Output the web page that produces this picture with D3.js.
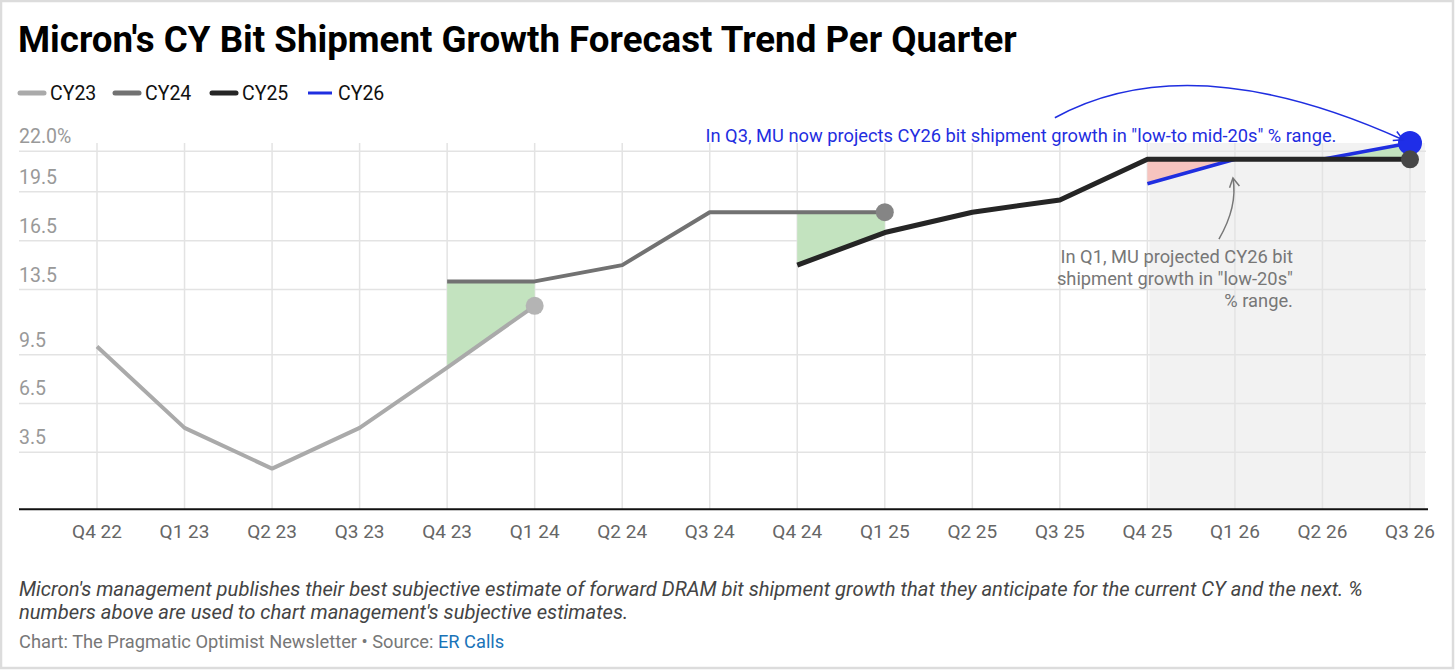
<!DOCTYPE html>
<html>
<head>
<meta charset="utf-8">
<script src="https://cdn.jsdelivr.net/npm/d3@7"></script>
<style>
  html, body { margin: 0; padding: 0; background: #fff; }
  svg { display: block; font-family: Roboto, "Noto Sans", sans-serif; }
</style>
</head>
<body>
<script>
// quarters on the x axis
const quarters = ["Q4 22", "Q1 23", "Q2 23", "Q3 23", "Q4 23", "Q1 24", "Q2 24", "Q3 24",
                  "Q4 24", "Q1 25", "Q2 25", "Q3 25", "Q4 25", "Q1 26", "Q2 26", "Q3 26"];

// forecast % for each calendar year, by quarter it was given (null = not given)
const cy23 = [10, 5, 2.5, 5, 8.7, 12.5, null, null, null, null, null, null, null, null, null, null];
const cy24 = [null, null, null, null, 14, 14, 15, 18.25, 18.25, 18.25, null, null, null, null, null, null];
const cy25 = [null, null, null, null, null, null, null, null, 15, 17, 18.25, 19, 21.5, 21.5, 21.5, 21.5];
const cy26 = [null, null, null, null, null, null, null, null, null, null, null, null, 20, 21.5, 21.5, 22.5];

const yTicks = [3.5, 6.5, 9.5, 13.5, 16.5, 19.5, 22];
const yTickLabels = ["3.5", "6.5", "9.5", "13.5", "16.5", "19.5", "22.0%"];

const seriesNames = ["CY23", "CY24", "CY25", "CY26"];
const seriesColors = ["#aaaaaa", "#727272", "#252525", "#1f2ee0"];

// shaded gaps between series: [series a, series b, first quarter, last quarter, colour]
const gaps = [
  [0, 1, "Q4 23", "Q1 24", "#c3e3bf"],
  [2, 1, "Q4 24", "Q1 25", "#c3e3bf"],
  [3, 2, "Q4 25", "Q1 26", "#f6c4bf"],
  [2, 3, "Q2 26", "Q3 26", "#c3e3bf"]
];

const W = 1456, H = 671;
const svg = d3.select("body").append("svg").attr("width", W).attr("height", H);

// outer frame
svg.append("rect").attr("x", 1).attr("y", 1).attr("width", 1452).attr("height", 667)
  .attr("fill", "#fff").attr("stroke", "#dcdcdc").attr("stroke-width", 2.5);

const series = [cy23, cy24, cy25, cy26];

const plotLeft = 19, plotRight = 1426, plotTop = 143, plotBottom = 509.3;
const x = d3.scalePoint().domain(quarters).range([97, 1410]);
const y = d3.scaleLinear().domain([0, 22.5]).range([plotBottom, plotTop]);

// title
svg.append("text").attr("x", 18).attr("y", 52)
  .attr("font-size", 36.7).attr("font-weight", 700).attr("fill", "#000")
  .text("Micron's CY Bit Shipment Growth Forecast Trend Per Quarter");

// legend
const legendX = [19, 114, 211, 307];
const lg = svg.append("g").selectAll("g").data(seriesNames).join("g")
  .attr("transform", (d, i) => `translate(${legendX[i]},93)`);
lg.append("line").attr("x1", 1).attr("x2", 25).attr("y1", 0).attr("y2", 0)
  .attr("stroke", (d, i) => seriesColors[i])
  .attr("stroke-width", (d, i) => i === 3 ? 3 : 5)
  .attr("stroke-linecap", (d, i) => i === 3 ? "butt" : "round");
lg.append("text").attr("x", 31).attr("y", 7).attr("font-size", 19.5).attr("fill", "#111").text(d => d);

// future shaded block
svg.append("rect")
  .attr("x", x("Q4 25") + 2).attr("y", plotTop)
  .attr("width", plotRight - 1 - (x("Q4 25") + 2)).attr("height", plotBottom - plotTop)
  .attr("fill", "#f2f2f2");

// grid
svg.append("g").selectAll("line").data(quarters).join("line")
  .attr("x1", d => x(d)).attr("x2", d => x(d)).attr("y1", plotTop).attr("y2", plotBottom)
  .attr("stroke", "#e3e3e3").attr("stroke-width", 1.5);
svg.append("g").selectAll("line").data(yTicks).join("line")
  .attr("x1", plotLeft).attr("x2", plotRight).attr("y1", d => y(d)).attr("y2", d => y(d))
  .attr("stroke", "#e3e3e3").attr("stroke-width", 1.5);

// y labels sit above their gridlines
svg.append("g").selectAll("text").data(yTicks).join("text")
  .attr("x", plotLeft).attr("y", d => y(d) - 8)
  .attr("font-size", 19.5).attr("fill", "#999")
  .text((d, i) => yTickLabels[i]);

// gaps
gaps.forEach(([a, b, q0, q1, col]) => {
  const i0 = quarters.indexOf(q0), i1 = quarters.indexOf(q1);
  const idx = d3.range(i0, i1 + 1);
  svg.append("path").datum(idx)
    .attr("fill", col)
    .attr("d", d3.area()
      .x(i => x(quarters[i]))
      .y0(i => y(series[a][i]))
      .y1(i => y(series[b][i])));
});

// lines
const line = d3.line()
  .defined(d => d.v != null)
  .x(d => x(d.q)).y(d => y(d.v));
const widths = [4, 4, 5, 3.5];
const drawOrder = [0, 1, 3, 2];
drawOrder.forEach(s => {
  const pts = quarters.map((q, i) => ({ q, v: series[s][i] }));
  svg.append("path").datum(pts)
    .attr("fill", "none").attr("stroke", seriesColors[s])
    .attr("stroke-width", widths[s]).attr("stroke-linejoin", "round")
    .attr("d", line);
});

// end dots
const dotColors = ["#b4b4b4", "#858585", "#474747", "#1f2ee8"];
const dotR = [9, 9, 9, 12];
[0, 1, 3, 2].forEach(s => {
  let last = -1;
  series[s].forEach((v, i) => { if (v != null) last = i; });
  svg.append("circle")
    .attr("cx", x(quarters[last])).attr("cy", y(series[s][last]))
    .attr("r", dotR[s]).attr("fill", dotColors[s]);
});

// baseline
svg.append("line").attr("x1", plotLeft).attr("x2", plotRight + 2).attr("y1", plotBottom).attr("y2", plotBottom)
  .attr("stroke", "#111").attr("stroke-width", 2);

// x labels
svg.append("g").selectAll("text").data(quarters).join("text")
  .attr("x", d => x(d)).attr("y", 538).attr("text-anchor", "middle")
  .attr("font-size", 19).attr("fill", "#666").text(d => d);

// annotations
const defs = svg.append("defs");
function chevron(id, col) {
  defs.append("marker").attr("id", id).attr("viewBox", "-10 -6 12 12")
    .attr("markerWidth", 12).attr("markerHeight", 12).attr("refX", 0).attr("refY", 0)
    .attr("orient", "auto").attr("markerUnits", "userSpaceOnUse")
    .append("path").attr("d", "M-9,-5 L0,0 L-9,5").attr("fill", "none")
    .attr("stroke", col).attr("stroke-width", 1.5);
}
chevron("arrBlue", "#1f2ee0");
chevron("arrGray", "#777");

const bx0 = x("Q3 25") - 5, by0 = y(24.05);
const bx1 = x("Q3 26") - 7, by1 = y(22.7);
svg.append("path")
  .attr("d", `M${bx0},${by0} Q${x("Q1 26") - 45},${y(28.6)} ${bx1},${by1}`)
  .attr("fill", "none").attr("stroke", "#1f2ee0").attr("stroke-width", 1.5)
  .attr("marker-end", "url(#arrBlue)");

svg.append("text").attr("x", x("Q2 26") + 14).attr("y", y(22.5) - 1)
  .attr("text-anchor", "end").attr("font-size", 18.3).attr("fill", "#1f2ee0")
  .text('In Q3, MU now projects CY26 bit shipment growth in "low-to mid-20s" % range.');

const gx0 = x("Q1 26") - 16, gy0 = y(16.6);
const gx1 = x("Q1 26") - 2, gy1 = y(20.35);
svg.append("path")
  .attr("d", `M${gx0},${gy0} Q${gx1 + 5},${y(18.6)} ${gx1},${gy1}`)
  .attr("fill", "none").attr("stroke", "#777").attr("stroke-width", 1.5)
  .attr("marker-end", "url(#arrGray)");

const noteLines = ["In Q1, MU projected CY26 bit", 'shipment growth in "low-20s"', "% range."];
svg.append("g").selectAll("text").data(noteLines).join("text")
  .attr("x", x("Q1 26") + 58).attr("y", (d, i) => 263 + i * 22)
  .attr("text-anchor", "end").attr("font-size", 18.3).attr("fill", "#777").text(d => d);

// footer
const notes = [
  "Micron's management publishes their best subjective estimate of forward DRAM bit shipment growth that they anticipate for the current CY and the next. %",
  "numbers above are used to chart management's subjective estimates."
];
svg.append("g").selectAll("text").data(notes).join("text")
  .attr("x", 19).attr("y", (d, i) => 596 + i * 23)
  .attr("font-size", 20.2).attr("font-style", "italic").attr("fill", "#444").text(d => d);

const src = svg.append("text").attr("x", 19).attr("y", 648).attr("font-size", 18.3).attr("fill", "#777");
src.append("tspan").text("Chart: The Pragmatic Optimist Newsletter \u2022 Source: ");
src.append("tspan").attr("fill", "#1a73b8").text("ER Calls");
</script>
</body>
</html>
